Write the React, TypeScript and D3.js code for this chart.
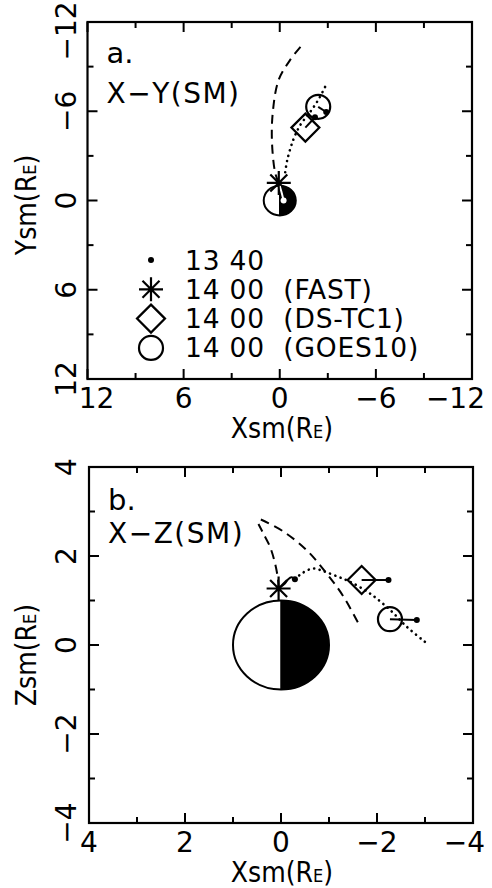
import React from 'react';
import * as d3 from 'd3';

type Pt = [number, number];

// legend (panel a only)
const legendKinds = ['dot', 'star', 'diamond', 'circle'];
const legendLabels = ['13 40', '14 00  (FAST)', '14 00  (DS-TC1)', '14 00  (GOES10)'];
// FAST, DS-TC1, GOES10
const satKinds = ['star', 'diamond', 'circle'];

// panel a: X-Y (SM)
const aMajor = [12, 6, 0, -6, -12];
const aMinor = [9, 3, -3, -9];
const aDashed: Pt[] = [[0.06, -1.18], [0.28, -1.83], [0.49, -4.07], [0.42, -6.08], [0.07, -8.1], [-0.65, -9.45], [-1.48, -10.57]];
const aDotted: Pt[] = [[-0.34, -1.9], [-0.47, -2.72], [-0.84, -4.07], [-1.28, -5.07], [-1.9, -5.95], [-2.4, -6.76], [-2.86, -7.7]];
const aFastTrack: Pt[] = [[0.06, -1.18], [-0.1, -0.6], [-0.24, 0.0]];
const aAt1400: Pt[] = [[0.06, -1.18], [-1.6, -4.9], [-2.4, -6.3]];
const aAt1340: Pt[] = [[-0.24, 0.0], [-2.2, -5.6], [-2.9, -5.95]];

// panel b: X-Z (SM)
const bMajor = [4, 2, 0, -2, -4];
const bMinor = [3, 1, -1, -3];
const bDashed1: Pt[] = [[0.05, 1.27], [0.06, 1.46], [0.125, 1.84], [0.23, 2.21], [0.37, 2.51], [0.47, 2.72]];
const bDashed2: Pt[] = [[0.42, 2.82], [-0.05, 2.55], [-0.535, 2.13], [-0.95, 1.61], [-1.3, 1.09], [-1.65, 0.41]];
const bDotted: Pt[] = [[-0.29, 1.48], [-0.45, 1.62], [-0.67, 1.72], [-0.88, 1.66], [-1.15, 1.55], [-1.44, 1.42], [-1.85, 1.16], [-2.27, 0.79], [-2.62, 0.41], [-3.0, 0.07]];
const bFastTrack: Pt[] = [[0.05, 1.27], [-0.08, 1.38], [-0.15, 1.48], [-0.22, 1.52], [-0.29, 1.48]];
const bAt1400: Pt[] = [[0.05, 1.27], [-1.68, 1.46], [-2.27, 0.58]];
const bAt1340: Pt[] = [[-0.29, 1.48], [-2.24, 1.46], [-2.83, 0.56]];

const FONT = 'DejaVu Sans';
const fmt = d3.format('d');

function Marker({ kind, cx, cy }: { kind: string; cx: number; cy: number }) {
  if (kind === 'dot') return <circle cx={cx} cy={cy} r={3} fill="#000" />;
  if (kind === 'circle') return <circle cx={cx} cy={cy} r={12} fill="none" stroke="#000" strokeWidth={2.2} />;
  if (kind === 'diamond') {
    const s = 14;
    return <path d={`M${cx},${cy - s}L${cx + s},${cy}L${cx},${cy + s}L${cx - s},${cy}Z`} fill="none" stroke="#000" strokeWidth={2.2} />;
  }
  const s = 12;
  const d = 8.5;
  return (
    <path
      d={`M${cx - s},${cy}H${cx + s}M${cx},${cy - s}V${cy + s}M${cx - d},${cy - d}L${cx + d},${cy + d}M${cx - d},${cy + d}L${cx + d},${cy - d}`}
      stroke="#000" strokeWidth={2.2} fill="none"
    />
  );
}

type PanelProps = {
  id: string;
  left: number; right: number; top: number; bottom: number;
  lim: number; major: number[]; minor: number[];
  tag: string; title: string; yName: string; yTitleAt: number; firstNudge: number; topLabelNudge: number;
  dashed: Pt[][]; dotted: Pt[]; track: Pt[]; at1400: Pt[]; at1340: Pt[];
  legend?: boolean; tagDy: number; titleDy: number;
};

function Panel(p: PanelProps) {
  const x = d3.scaleLinear().domain([p.lim, -p.lim]).range([p.left, p.right]);
  // panel a: Y grows downward, panel b: Z grows upward
  const y = p.yName === 'Y'
    ? d3.scaleLinear().domain([-p.lim, p.lim]).range([p.top, p.bottom])
    : d3.scaleLinear().domain([p.lim, -p.lim]).range([p.top, p.bottom]);
  const line = d3.line<Pt>().x(d => x(d[0])).y(d => y(d[1])).curve(d3.curveCatmullRom);

  const rx = Math.abs(x(1) - x(0));
  const ry = Math.abs(y(1) - y(0));
  const ex = x(0), ey = y(0);
  const night = `M${ex},${ey - ry}A${rx},${ry} 0 0 1 ${ex},${ey + ry}Z`;

  const ticks: JSX.Element[] = [];
  const tick = (v: number, len: number, key: string) => {
    ticks.push(
      <g key={key} stroke="#000" strokeWidth={2}>
        <line x1={x(v)} x2={x(v)} y1={p.bottom} y2={p.bottom - len} />
        <line x1={x(v)} x2={x(v)} y1={p.top} y2={p.top + len} />
        <line y1={y(v)} y2={y(v)} x1={p.left} x2={p.left + len} />
        <line y1={y(v)} y2={y(v)} x1={p.right} x2={p.right - len} />
      </g>
    );
  };
  p.major.forEach((v, i) => tick(v, 10, 'M' + i));
  p.minor.forEach((v, i) => tick(v, 6, 'm' + i));

  const n = p.major.length;
  const yLabels = p.yName === 'Y' ? p.major.slice().reverse() : p.major;

  return (
    <g fontFamily={FONT} fill="#000">
      <defs>
        <clipPath id={'night' + p.id}><path d={night} /></clipPath>
      </defs>
      {/* earth */}
      <ellipse cx={ex} cy={ey} rx={rx} ry={ry} fill="#fff" stroke="#000" strokeWidth={2} />
      <path d={night} fill="#000" />
      <line x1={ex} x2={ex} y1={ey - ry} y2={ey + ry} stroke="#000" strokeWidth={1.5} />

      {p.dashed.map((d, i) => (
        <path key={i} d={line(d) || ''} fill="none" stroke="#000" strokeWidth={2} strokeDasharray="9,6" />
      ))}
      <path d={line(p.dotted) || ''} fill="none" stroke="#000" strokeWidth={2.6} strokeDasharray="0.1,5.5" strokeLinecap="round" />

      {/* 13:40 -> 14:00 positions */}
      <path d={line(p.track) || ''} fill="none" stroke="#000" strokeWidth={2} />
      {p.at1400.slice(1).map((d, i) => (
        <line key={i} x1={x(d[0])} y1={y(d[1])} x2={x(p.at1340[i + 1][0])} y2={y(p.at1340[i + 1][1])} stroke="#000" strokeWidth={2} />
      ))}
      {p.at1340.map((d, i) => <Marker key={i} kind="dot" cx={x(d[0])} cy={y(d[1])} />)}
      {p.at1400.map((d, i) => <Marker key={i} kind={satKinds[i]} cx={x(d[0])} cy={y(d[1])} />)}
      <g clipPath={`url(#night${p.id})`}>
        <path d={line(p.track) || ''} fill="none" stroke="#fff" strokeWidth={2} />
        <circle cx={x(p.at1340[0][0])} cy={y(p.at1340[0][1])} r={3} fill="#fff" />
      </g>

      {/* frame and ticks */}
      {ticks}
      <rect x={p.left} y={p.top} width={p.right - p.left} height={p.bottom - p.top} fill="none" stroke="#000" strokeWidth={2.2} />

      {p.major.map((v, i) => {
        let tx = x(v);
        let anchor = 'middle';
        if (i === 0) tx += p.firstNudge;
        if (i === n - 1) { tx = 485; anchor = 'end'; }
        return <text key={'x' + i} x={tx} y={p.bottom + 29} fontSize={28} textAnchor={anchor}>{fmt(v)}</text>;
      })}
      {yLabels.map((v, i) => (
        <text key={'y' + i} transform={`translate(76,${y(v) + (i === 0 ? p.topLabelNudge : 0)}) rotate(-90)`} fontSize={28} textAnchor="middle">{fmt(v)}</text>
      ))}

      <text x={282} y={p.bottom + 59} fontSize={28} textAnchor="middle" fontFamily="DejaVu Sans Condensed">
        Xsm(R<tspan fontSize={18}>E</tspan>)
      </text>
      <text transform={`translate(36,${p.yTitleAt}) rotate(-90)`} fontSize={28} textAnchor="middle" fontFamily="DejaVu Sans Condensed">
        {p.yName}sm(R<tspan fontSize={18}>E</tspan>)
      </text>

      <text x={p.left + 19} y={p.top + p.tagDy} fontSize={29}>{p.tag}</text>
      <text x={p.left + 19} y={p.top + p.titleDy} fontSize={28} letterSpacing={1.5}>{p.title}</text>

      {p.legend && legendLabels.map((s, i) => (
        <g key={'l' + i}>
          <Marker kind={legendKinds[i]} cx={151} cy={260 + i * 29.3} />
          <text x={185} y={260 + i * 29.3 + 9.5} fontSize={26.5} letterSpacing={0.8} style={{ whiteSpace: 'pre' }}>{s}</text>
        </g>
      ))}
    </g>
  );
}

export default function App() {
  return (
    <svg width={492} height={888} style={{ position: 'absolute', left: 0, top: 0, background: '#fff' }}>
      <rect width={492} height={888} fill="#fff" />
      <Panel
        id="a" left={87.5} right={472} top={22} bottom={379} lim={12}
        major={aMajor} minor={aMinor} tag="a." title="X−Y(SM)" yName="Y" yTitleAt={205} firstNudge={9} topLabelNudge={9}
        dashed={[aDashed]} dotted={aDotted} track={aFastTrack} at1400={aAt1400} at1340={aAt1340}
        legend tagDy={41} titleDy={81}
      />
      <Panel
        id="b" left={89} right={473} top={467} bottom={823} lim={4}
        major={bMajor} minor={bMinor} tag="b." title="X−Z(SM)" yName="Z" yTitleAt={655} firstNudge={0} topLabelNudge={0}
        dashed={[bDashed1, bDashed2]} dotted={bDotted} track={bFastTrack} at1400={bAt1400} at1340={bAt1340}
        tagDy={43} titleDy={76}
      />
    </svg>
  );
}
